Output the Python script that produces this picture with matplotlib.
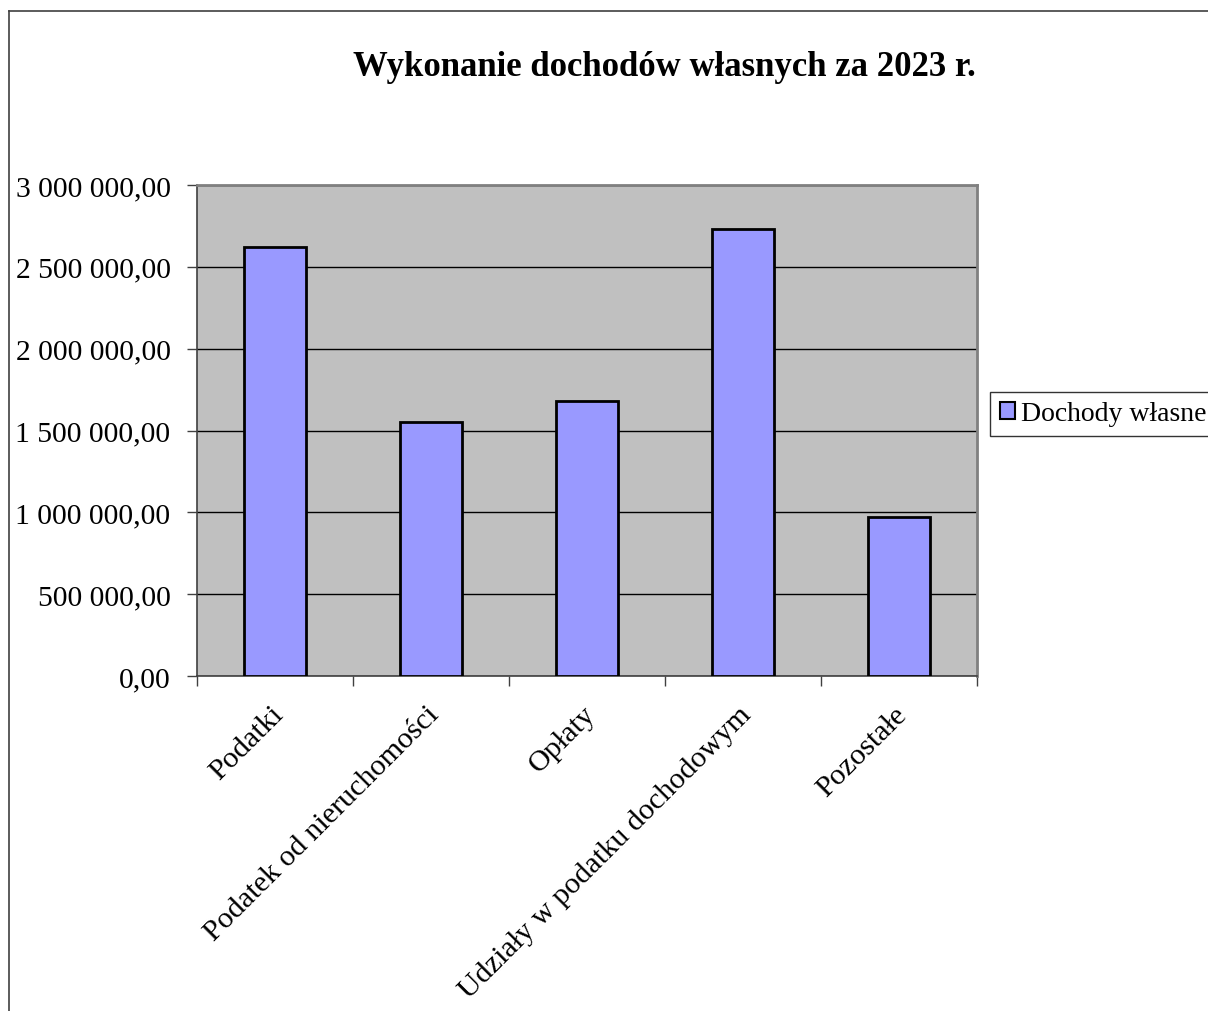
import matplotlib
matplotlib.use("Agg")
import matplotlib.pyplot as plt
from matplotlib.lines import Line2D
from matplotlib.patches import Patch
import matplotlib.transforms as mtransforms
import numpy as np

categories = ["Podatki", "Podatek od nieruchomości", "Opłaty",
              "Udziały w podatku dochodowym", "Pozostałe"]
values = [2621000, 1552000, 1680000, 2731000, 972000]
yticks = [0, 500000, 1000000, 1500000, 2000000, 2500000, 3000000]
title = "Wykonanie dochodów własnych za 2023 r."
series_name = "Dochody własne"

def fmt(v):
    s = f"{v:,.2f}"
    return s.replace(",", " ").replace(".", ",")

plt.rcParams['font.family'] = ['Liberation Serif', 'DejaVu Serif']

W, H = 1208, 1012
fig = plt.figure(figsize=(W / 100, H / 100), dpi=100)

# outer chart frame (left and top edges visible)
fig.add_artist(Line2D([9 / W, 9 / W], [0, 1 - 12 / H], transform=fig.transFigure,
                      color="#404040", lw=1.2))
fig.add_artist(Line2D([9 / W, 1], [1 - 12 / H, 1 - 12 / H], transform=fig.transFigure,
                      color="#404040", lw=1.2))

left, right, top, bottom = 197, 977, 186, 677
ax = fig.add_axes([left / W, 1 - bottom / H, (right - left) / W, (bottom - top) / H])
ax.set_facecolor("#c0c0c0")

x = np.arange(len(categories))
ax.bar(x, values, width=0.4, color="#9999ff", edgecolor="black", linewidth=2, zorder=3)

ax.set_xlim(-0.5, len(categories) - 0.5)
ax.set_ylim(0, 3000000)
ax.set_yticks(yticks)
ax.set_yticklabels([fmt(v) for v in yticks], fontsize=21.3)
ax.yaxis.grid(True, color="black", lw=1.0, zorder=1)
ax.set_axisbelow(True)

ax.set_xticks(x)
ax.set_xticklabels(categories, rotation=45, ha="right", va="top",
                   rotation_mode="anchor", fontsize=21.7)
ax.tick_params(axis="x", which="major", length=0, pad=18)
offset = mtransforms.ScaledTranslation(-5 / 100, 0, fig.dpi_scale_trans)
for lbl in ax.get_xticklabels():
    lbl.set_transform(lbl.get_transform() + offset)
ax.set_xticks(np.arange(-0.5, len(categories), 1), minor=True)
ax.tick_params(axis="x", which="minor", length=7, width=1, color="#404040", direction="out")
ax.tick_params(axis="y", length=7, width=1, color="#404040", direction="out", pad=12)

for side in ["top", "right"]:
    ax.spines[side].set_color("#808080")
    ax.spines[side].set_linewidth(2)
ax.spines["left"].set_color("#404040")
ax.spines["bottom"].set_color("#404040")
ax.spines["left"].set_linewidth(1.2)
ax.spines["bottom"].set_linewidth(1.2)

fig.text(664 / W, 1 - 68 / H, title, ha="center", va="center",
         fontsize=25, fontweight="bold")

handle = Patch(facecolor="#9999ff", edgecolor="black", linewidth=1.5)
leg = fig.legend([handle], [series_name], loc="center left",
                 bbox_to_anchor=(990 / W, 1 - 415 / H), fontsize=20,
                 frameon=True, fancybox=False, edgecolor="black",
                 handlelength=0.55, handleheight=0.55, handletextpad=0.2,
                 borderpad=0.35, borderaxespad=0)
leg.get_frame().set_linewidth(1.0)

fig.savefig("out.png", dpi=100)
